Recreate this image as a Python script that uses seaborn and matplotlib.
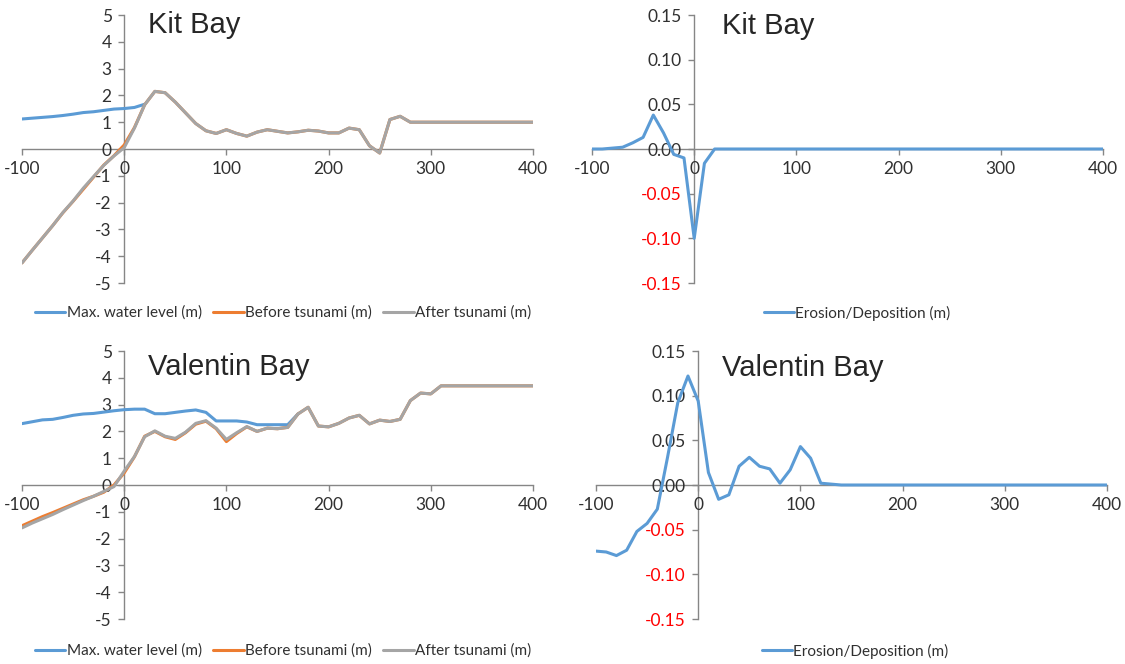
import numpy as np
import pandas as pd
import matplotlib
matplotlib.use("Agg")
import matplotlib.pyplot as plt
import seaborn as sns

# distance along profile (m), 10 m steps
dist = list(range(-100, 401, 10))

# Kit Bay
kit_max_x = list(range(-100, 21, 10))
kit_max = [1.12, 1.15, 1.18, 1.21, 1.25, 1.30, 1.36, 1.39, 1.44, 1.49, 1.51, 1.55, 1.67]
kit_before = [-4.25, -3.78, -3.32, -2.86, -2.38, -1.95, -1.50, -1.05, -0.60, -0.25, 0.15, 0.80, 1.65,
              2.15, 2.10, 1.75, 1.35, 0.95, 0.68, 0.58, 0.72, 0.58, 0.48, 0.63, 0.72, 0.66, 0.60,
              0.64, 0.70, 0.67, 0.60, 0.60, 0.78, 0.72, 0.12, -0.15, 1.10, 1.22, 1.00, 1.00, 1.00,
              1.00, 1.00, 1.00, 1.00, 1.00, 1.00, 1.00, 1.00, 1.00, 1.00]
kit_after = [-4.25, -3.78, -3.32, -2.86, -2.37, -1.94, -1.46, -1.03, -0.61, -0.26, 0.05, 0.78, 1.65,
             2.15, 2.10, 1.75, 1.35, 0.95, 0.68, 0.58, 0.72, 0.58, 0.48, 0.63, 0.72, 0.66, 0.60,
             0.64, 0.70, 0.67, 0.60, 0.60, 0.78, 0.72, 0.12, -0.15, 1.10, 1.22, 1.00, 1.00, 1.00,
             1.00, 1.00, 1.00, 1.00, 1.00, 1.00, 1.00, 1.00, 1.00, 1.00]
kit_erosion = [0.0, 0.0, 0.001, 0.002, 0.007, 0.013, 0.038, 0.018, -0.006, -0.010, -0.100, -0.016] + [0.0] * 39

# Valentin Bay
val_max_x = list(range(-100, 171, 10))
val_max = [2.29, 2.36, 2.43, 2.45, 2.52, 2.60, 2.65, 2.67, 2.72, 2.77, 2.81, 2.83, 2.83, 2.66, 2.66,
           2.71, 2.76, 2.80, 2.71, 2.39, 2.39, 2.39, 2.35, 2.25, 2.25, 2.25, 2.25, 2.65]
val_before = [-1.52, -1.35, -1.18, -1.03, -0.87, -0.71, -0.55, -0.42, -0.27, 0.00, 0.45, 1.05, 1.82,
              2.00, 1.80, 1.70, 1.95, 2.27, 2.38, 2.10, 1.62, 1.92, 2.17, 2.00, 2.12, 2.10, 2.15,
              2.65, 2.90, 2.20, 2.17, 2.30, 2.50, 2.60, 2.28, 2.42, 2.37, 2.45, 3.15, 3.43, 3.40,
              3.70, 3.70, 3.70, 3.70, 3.70, 3.70, 3.70, 3.70, 3.70, 3.70]
val_after = [-1.60, -1.42, -1.26, -1.10, -0.92, -0.75, -0.58, -0.42, -0.24, -0.06, 0.52, 1.06, 1.80,
             2.02, 1.82, 1.74, 1.97, 2.30, 2.40, 2.12, 1.70, 1.95, 2.18, 2.00, 2.12, 2.10, 2.15,
             2.65, 2.90, 2.20, 2.17, 2.30, 2.50, 2.60, 2.28, 2.42, 2.37, 2.45, 3.15, 3.43, 3.40,
             3.70, 3.70, 3.70, 3.70, 3.70, 3.70, 3.70, 3.70, 3.70, 3.70]
val_erosion = [-0.074, -0.075, -0.079, -0.073, -0.052, -0.043, -0.027, 0.031, 0.092, 0.122, 0.094,
               0.014, -0.016, -0.011, 0.021, 0.031, 0.021, 0.018, 0.002, 0.017, 0.043, 0.030, 0.002,
               0.001, 0.0] + [0.0] * 26

bays = ["Kit Bay", "Valentin Bay"]
x_ticks = [-100, 0, 100, 200, 300, 400]
level_ticks = [-5, -4, -3, -2, -1, 0, 1, 2, 3, 4, 5]
eros_ticks = [-0.15, -0.10, -0.05, 0.0, 0.05, 0.10, 0.15]

BLUE = "#5B9BD5"
ORANGE = "#ED7D31"
GRAY = "#A5A5A5"
AXIS = "#868686"
TEXT = "#303030"

sns.set_style("white")
plt.rcParams["font.family"] = ["Lato", "DejaVu Sans"]
plt.rcParams["axes.unicode_minus"] = False

W, H = 1125, 664
fig = plt.figure(figsize=(W / 100, H / 100), dpi=100)


def frac(x0, y0, x1, y1):
    return [x0 / W, 1 - y1 / H, (x1 - x0) / W, (y1 - y0) / H]


def style_axis(ax, ylim, yticks, fmt, red_neg=False):
    ax.set_xlim(-100, 400)
    ax.set_ylim(*ylim)
    for s in ["top", "right"]:
        ax.spines[s].set_visible(False)
    ax.spines["left"].set_position(("data", 0))
    ax.spines["bottom"].set_position(("data", 0))
    for s in ["left", "bottom"]:
        ax.spines[s].set_color(AXIS)
        ax.spines[s].set_linewidth(1.0)
        ax.spines[s].set_zorder(0.5)
    ax.set_xticks(x_ticks)
    ax.set_yticks(yticks)
    ax.set_xticklabels([str(t) for t in x_ticks])
    ax.set_yticklabels([fmt.format(t) for t in yticks])
    ax.tick_params(axis="both", direction="out", length=4, width=1, color=AXIS,
                   labelsize=12.5, labelcolor=TEXT, bottom=True, left=True)
    ax.tick_params(axis="x", pad=5)
    ax.tick_params(axis="y", pad=5)
    if red_neg:
        for lbl, t in zip(ax.get_yticklabels(), yticks):
            if t < 0:
                lbl.set_color("red")
    ax.set_xlabel("")
    ax.set_ylabel("")
    ax.patch.set_alpha(0)


level_data = [(kit_max_x, kit_max, kit_before, kit_after), (val_max_x, val_max, val_before, val_after)]
eros_data = [kit_erosion, val_erosion]
rows_y = [(15, 283), (351, 619)]
legend_y = [313, 651]
title_base = [33, 375]
right_left = [592, 596]
right_leg_x = [0.519, 0.507]

for i, bay in enumerate(bays):
    y0, y1 = rows_y[i]
    mx, mv, bef, aft = level_data[i]

    # water level / profile panel
    ax = fig.add_axes(frac(22, y0, 533, y1))
    df_max = pd.DataFrame({"x": mx, "y": mv})
    df_prof = pd.DataFrame({"x": dist, "before": bef, "after": aft})
    sns.lineplot(data=df_max, x="x", y="y", ax=ax, color=BLUE, linewidth=2.2,
                 label="Max. water level (m)")
    sns.lineplot(data=df_prof, x="x", y="before", ax=ax, color=ORANGE, linewidth=2.2,
                 label="Before tsunami (m)")
    sns.lineplot(data=df_prof, x="x", y="after", ax=ax, color=GRAY, linewidth=2.2,
                 label="After tsunami (m)")
    style_axis(ax, (-5, 5), level_ticks, "{:g}")
    fig.text(148 / W, 1 - title_base[i] / H, bay, fontsize=21, family="Liberation Sans",
             va="baseline", ha="left")
    leg = ax.legend(loc="center", bbox_to_anchor=(0.511, -(legend_y[i] - y1) / (y1 - y0)), ncol=3,
                    frameon=False, fontsize=11, handlelength=2.0, handletextpad=0.08,
                    columnspacing=0.75, borderaxespad=0)
    for t in leg.get_texts():
        t.set_color(TEXT)

    # erosion / deposition panel
    xl = right_left[i]
    ax2 = fig.add_axes(frac(xl, y0, xl + 511, y1))
    df_e = pd.DataFrame({"x": dist, "y": eros_data[i]})
    sns.lineplot(data=df_e, x="x", y="y", ax=ax2, color=BLUE, linewidth=2.2,
                 label="Erosion/Deposition (m)")
    style_axis(ax2, (-0.15, 0.15), eros_ticks, "{:.2f}", red_neg=True)
    fig.text(722 / W, 1 - (title_base[i] + 1) / H, bay, fontsize=21, family="Liberation Sans",
             va="baseline", ha="left")
    leg2 = ax2.legend(loc="center", bbox_to_anchor=(right_leg_x[i], -(legend_y[i] - y1) / (y1 - y0)),
                      ncol=1, frameon=False, fontsize=11, handlelength=2.0, handletextpad=0.08,
                      borderaxespad=0)
    for t in leg2.get_texts():
        t.set_color(TEXT)

plt.savefig("out.png", dpi=100)
